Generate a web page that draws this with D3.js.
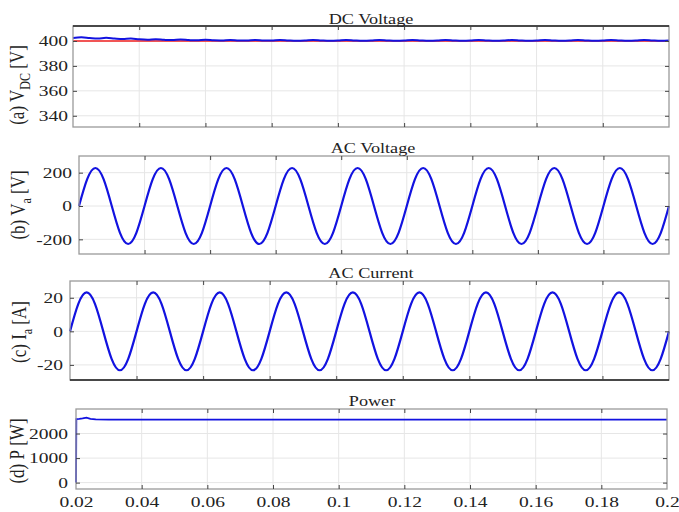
<!DOCTYPE html>
<html>
<head>
<meta charset="utf-8">
<script src="https://cdn.jsdelivr.net/npm/d3@7"></script>
<style>
  body { margin: 0; background: #fff; }
  text { font-family: "Liberation Serif", "Times New Roman", serif; fill: #222; }
</style>
</head>
<body>
<div id="chart"></div>
<script>
/* data */
const time = [0.02, 0.0225, 0.025, 0.0275, 0.03, 0.0325, 0.035, 0.0375, 0.04, 0.0425, 0.045, 0.0475,
  0.05, 0.0525, 0.055, 0.0575, 0.06, 0.0625, 0.065, 0.0675, 0.07, 0.0725, 0.075, 0.0775,
  0.08, 0.0825, 0.085, 0.0875, 0.09, 0.0925, 0.095, 0.0975, 0.1, 0.1025, 0.105, 0.1075,
  0.11, 0.1125, 0.115, 0.1175, 0.12, 0.1225, 0.125, 0.1275, 0.13, 0.1325, 0.135, 0.1375,
  0.14, 0.1425, 0.145, 0.1475, 0.15, 0.1525, 0.155, 0.1575, 0.16, 0.1625, 0.165, 0.1675,
  0.17, 0.1725, 0.175, 0.1775, 0.18, 0.1825, 0.185, 0.1875, 0.19, 0.1925, 0.195, 0.1975, 0.2];

// measured DC link voltage (blue) and its reference (red)
const vdcMeas = [402.3, 402.9, 402.4, 402.0, 402.5, 402.0, 401.6, 401.9,
  401.3, 401.0, 401.3, 400.9, 400.7, 401.1, 400.7, 400.5,
  400.9, 400.5, 400.4, 400.8, 400.4, 400.3, 400.8, 400.4,
  400.3, 400.8, 400.4, 400.1, 400.3, 400.8, 400.4, 400.1,
  400.3, 400.8, 400.4, 400.1, 400.3, 400.8, 400.4, 400.1,
  400.3, 400.8, 400.4, 400.1, 400.3, 400.8, 400.4, 400.1,
  400.3, 400.8, 400.4, 400.1, 400.3, 400.8, 400.4, 400.1,
  400.3, 400.8, 400.4, 400.1, 400.3, 400.8, 400.4, 400.1,
  400.3, 400.8, 400.4, 400.1, 400.3, 400.8, 400.4, 400.1, 400.3];
const vdcRefTime = [0.02, 0.2];
const vdcRef = [400, 400];

// phase a voltage [V]
const va = [0, 161, 228, 161, 0, -161, -228, -161,
  0, 161, 228, 161, 0, -161, -228, -161,
  0, 161, 228, 161, 0, -161, -228, -161,
  0, 161, 228, 161, 0, -161, -228, -161,
  0, 161, 228, 161, 0, -161, -228, -161,
  0, 161, 228, 161, 0, -161, -228, -161,
  0, 161, 228, 161, 0, -161, -228, -161,
  0, 161, 228, 161, 0, -161, -228, -161,
  0, 161, 228, 161, 0, -161, -228, -161, 0];

// phase a current [A]
const ia = [0, 16.4, 23.2, 16.4, 0, -16.4, -23.2, -16.4,
  0, 16.4, 23.2, 16.4, 0, -16.4, -23.2, -16.4,
  0, 16.4, 23.2, 16.4, 0, -16.4, -23.2, -16.4,
  0, 16.4, 23.2, 16.4, 0, -16.4, -23.2, -16.4,
  0, 16.4, 23.2, 16.4, 0, -16.4, -23.2, -16.4,
  0, 16.4, 23.2, 16.4, 0, -16.4, -23.2, -16.4,
  0, 16.4, 23.2, 16.4, 0, -16.4, -23.2, -16.4,
  0, 16.4, 23.2, 16.4, 0, -16.4, -23.2, -16.4,
  0, 16.4, 23.2, 16.4, 0, -16.4, -23.2, -16.4, 0];

// active power [W]
const powerTime = [0.02, 0.0201, 0.021, 0.022, 0.0232, 0.0244, 0.026, 0.03, 0.2];
const power = [0, 2590, 2600, 2615, 2650, 2600, 2575, 2570, 2570];

const xTicks = [0.02, 0.04, 0.06, 0.08, 0.1, 0.12, 0.14, 0.16, 0.18, 0.2];
const xTickLabels = ["0.02", "0.04", "0.06", "0.08", "0.1", "0.12", "0.14", "0.16", "0.18", "0.2"];

const W = 679, H = 512;
const SX = 1.3;          // the reference text is stretched sideways
const BLUE = "#1212e0", RED = "#f02020";

const svg = d3.select("#chart").append("svg")
    .attr("width", W)
    .attr("height", H);

function panel(o) {
    const x = d3.scaleLinear().domain([0.02, 0.2]).range([o.left, o.right]);
    const y = d3.scaleLinear().domain(o.yDomain).range([o.bottom, o.top]);
    const g = svg.append("g");

    // grid
    g.append("g").selectAll("line").data(xTicks.slice(1, -1)).join("line")
        .attr("x1", d => x(d)).attr("x2", d => x(d))
        .attr("y1", o.top).attr("y2", o.bottom)
        .attr("stroke", "#e6e6e6");
    g.append("g").selectAll("line").data(o.yTicks).join("line")
        .attr("x1", o.left).attr("x2", o.right)
        .attr("y1", d => y(d)).attr("y2", d => y(d))
        .attr("stroke", "#e6e6e6");

    // series
    o.series.forEach(s => {
        const pts = s.t.map((t, i) => [t, s.v[i]]);
        g.append("path")
            .datum(pts)
            .attr("fill", "none")
            .attr("stroke", s.color)
            .attr("stroke-width", s.width)
            .attr("d", d3.line()
                .x(d => x(d[0]))
                .y(d => y(d[1]))
                .curve(s.curve || d3.curveLinear));
    });

    // box
    g.append("rect")
        .attr("x", o.left).attr("y", o.top)
        .attr("width", o.right - o.left).attr("height", o.bottom - o.top)
        .attr("fill", "none").attr("stroke", "#9a9a9a").attr("stroke-width", 1.3);
    if (o.darkTop) g.append("line").attr("x1", o.left).attr("x2", o.right)
        .attr("y1", o.top).attr("y2", o.top).attr("stroke", "#222").attr("stroke-width", 1.3);
    if (o.darkBottom) g.append("line").attr("x1", o.left).attr("x2", o.right)
        .attr("y1", o.bottom).attr("y2", o.bottom).attr("stroke", "#222").attr("stroke-width", 1.3);

    // axes, ticks pointing inward
    const left = g.append("g")
        .attr("transform", "translate(" + o.left + ",0)")
        .call(d3.axisLeft(y).tickValues(o.yTicks).tickSize(-4).tickPadding(0)
            .tickFormat(d => String(d)));
    left.selectAll("text")
        .attr("x", -o.gap / SX)
        .attr("transform", "scale(" + SX + ",1)")
        .style("font-size", "15px");

    g.append("g")
        .attr("transform", "translate(" + o.right + ",0)")
        .call(d3.axisRight(y).tickValues(o.yTicks).tickSize(-4).tickFormat(""));
    g.append("g")
        .attr("transform", "translate(0," + o.top + ")")
        .call(d3.axisTop(x).tickValues(xTicks.slice(1, -1)).tickSize(-4).tickFormat(""));
    g.append("g")
        .attr("transform", "translate(0," + o.bottom + ")")
        .call(d3.axisBottom(x).tickValues(xTicks.slice(1, -1)).tickSize(-4).tickFormat(""));

    if (o.xLabels) {
        const bx = g.append("g")
            .attr("transform", "translate(0," + o.bottom + ")")
            .call(d3.axisBottom(x).tickValues(xTicks).tickSize(0).tickPadding(7)
                .tickFormat((d, i) => xTickLabels[i]));
        bx.selectAll("text")
            .attr("transform", "scale(" + SX + ",1)")
            .attr("x", 0)
            .style("font-size", "15px");
        // scale about the tick origin keeps labels centred on their ticks
    }

    g.selectAll(".domain").remove();
    g.selectAll(".tick line").attr("stroke", "#444");

    // title
    g.append("text")
        .attr("transform", "translate(" + o.titleX + "," + o.titleY + ") scale(" + SX + ",1)")
        .attr("text-anchor", "middle")
        .style("font-size", "14px")
        .text(o.title);

    // y label with subscript
    const lab = g.append("text")
        .attr("transform", "translate(" + o.labelX + "," + o.labelY + ") rotate(-90) scale(1,1.2)")
        .attr("text-anchor", "middle")
        .style("font-size", "17px");
    lab.append("tspan").text(o.label[0]);
    if (o.label[1]) {
        lab.append("tspan").attr("dy", 5).style("font-size", "12px").text(o.label[1]);
        lab.append("tspan").attr("dy", -5).text(" " + o.label[2]);
    } else {
        lab.append("tspan").text(" " + o.label[2]);
    }
}

panel({
    left: 73, right: 669, top: 26, bottom: 127, gap: 5,
    yDomain: [331, 412], yTicks: [340, 360, 380, 400],
    title: "DC Voltage", titleX: 371, titleY: 24,
    label: ["(a) V", "DC", "[V]"], labelX: 24, labelY: 85,
    darkTop: true,
    series: [
        { t: vdcRefTime, v: vdcRef, color: RED, width: 1.6 },
        { t: time, v: vdcMeas, color: BLUE, width: 2, curve: d3.curveCatmullRom }
    ]
});

panel({
    left: 79, right: 669, top: 156, bottom: 254, gap: 7,
    yDomain: [-288, 300], yTicks: [-200, 0, 200],
    title: "AC Voltage", titleX: 373, titleY: 153,
    label: ["(b) V", "a", "[V]"], labelX: 25, labelY: 205,
    series: [{ t: time, v: va, color: BLUE, width: 2.2, curve: d3.curveNatural }]
});

panel({
    left: 70, right: 669, top: 281, bottom: 380, gap: 7,
    yDomain: [-29, 30], yTicks: [-20, 0, 20],
    title: "AC Current", titleX: 371, titleY: 278,
    label: ["(c) I", "a", "[A]"], labelX: 26, labelY: 332,
    darkBottom: true,
    series: [{ t: time, v: ia, color: BLUE, width: 2.2, curve: d3.curveNatural }]
});

panel({
    left: 76, right: 667, top: 409, bottom: 489, gap: 8,
    yDomain: [-260, 3000], yTicks: [0, 1000, 2000],
    title: "Power", titleX: 372, titleY: 406,
    label: ["(d) P", null, "[W]"], labelX: 24, labelY: 451,
    xLabels: true,
    series: [{ t: powerTime, v: power, color: BLUE, width: 1.8 }]
});
</script>
</body>
</html>
